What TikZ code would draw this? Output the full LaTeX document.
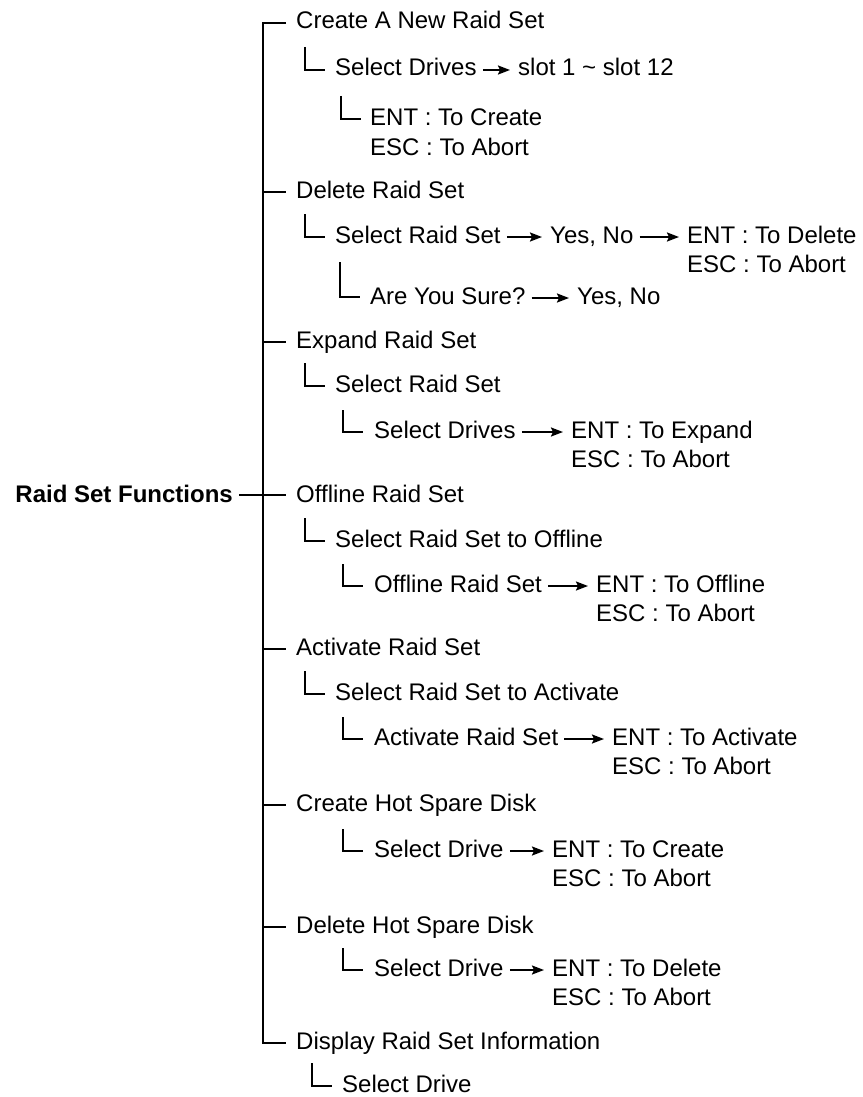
\documentclass[tikz,border=0pt]{standalone}
\usepackage{fontspec}
\setmainfont{Liberation Sans}
\usetikzlibrary{arrows.meta}
\begin{document}
\begin{tikzpicture}[x=1pt,y=-1pt,
  txt/.style={anchor=base west,inner sep=0pt,font=\fontsize{24}{28}\selectfont},
  roottxt/.style={anchor=base east,inner sep=0pt,font=\bfseries\fontsize{24}{28}\selectfont},
  tree/.style={line width=1.9pt},
  arr/.style={line width=1.9pt,-{Stealth[length=12pt,width=9pt,inset=2pt]},shorten <=6pt,shorten >=8pt}]
\useasboundingbox (0,0) rectangle (862,1097);

% root
\node[roottxt] (root) at (233,502) {Raid Set Functions};

% main level
\node[txt] (c1) at (296,29) {Create A New Raid Set};
\node[txt] (d1) at (296,198) {Delete Raid Set};
\node[txt] (e1) at (296,348) {Expand Raid Set};
\node[txt] (o1) at (296,502) {Offline Raid Set};
\node[txt] (a1) at (296,655) {Activate Raid Set};
\node[txt] (h1) at (296,811) {Create Hot Spare Disk};
\node[txt] (h2) at (296,933) {Delete Hot Spare Disk};
\node[txt] (s1) at (296,1049) {Display Raid Set Information};

% level 2
\node[txt] (c2) at (335,76) {Select Drives};
\node[txt] (d2) at (335,243) {Select Raid Set};
\node[txt] (e2) at (335,392) {Select Raid Set};
\node[txt] (o2) at (335,547) {Select Raid Set to Offline};
\node[txt] (a2) at (335,700) {Select Raid Set to Activate};
\node[txt] (h1s) at (374,857) {Select Drive};
\node[txt] (h2s) at (374,976) {Select Drive};
\node[txt] (s2) at (342,1092) {Select Drive};

% level 3
\node[txt] (c3) at (370,126) {ENT : To Create};
\node[txt] (c3b) at ([yshift=-29pt]c3.base west) {ESC : To Abort};
\node[txt] (d3) at (370,304) {Are You Sure?};
\node[txt] (e3) at (374,438) {Select Drives};
\node[txt] (o3) at (374,592) {Offline Raid Set};
\node[txt] (a3) at (374,745) {Activate Raid Set};

% right-hand results
\node[txt] (c2r) at (518,76) {slot 1 \char`~\ slot 12};
\node[txt] (d2r) at (550,243) {Yes, No};
\node[txt] (d2e) at (687,243) {ENT : To Delete};
\node[txt] (d2a) at ([yshift=-29pt]d2e.base west) {ESC : To Abort};
\node[txt] (d3r) at (577,304) {Yes, No};
\node[txt] (e3e) at (571,438) {ENT : To Expand};
\node[txt] (e3a) at ([yshift=-29pt]e3e.base west) {ESC : To Abort};
\node[txt] (o3e) at (596,592) {ENT : To Offline};
\node[txt] (o3a) at ([yshift=-29pt]o3e.base west) {ESC : To Abort};
\node[txt] (a3e) at (612,745) {ENT : To Activate};
\node[txt] (a3a) at ([yshift=-29pt]a3e.base west) {ESC : To Abort};
\node[txt] (h1e) at (552,857) {ENT : To Create};
\node[txt] (h1a) at ([yshift=-29pt]h1e.base west) {ESC : To Abort};
\node[txt] (h2e) at (552,976) {ENT : To Delete};
\node[txt] (h2a) at ([yshift=-29pt]h2e.base west) {ESC : To Abort};

% trunk
\draw[tree] ([xshift=-10pt,yshift=6pt]c1.base west) -- ([xshift=-33pt,yshift=6pt]c1.base west)
  -- ([xshift=-33pt,yshift=6pt]s1.base west) -- ([xshift=-10pt,yshift=6pt]s1.base west);
\foreach \n in {d1,e1,a1,h1,h2}
  \draw[tree] ([xshift=-33pt,yshift=6pt]\n.base west) -- ([xshift=-10pt,yshift=6pt]\n.base west);
\draw[tree] ([xshift=6pt,yshift=7pt]root.base east) -- ([xshift=-10pt,yshift=7pt]o1.base west);

% level-2 elbows
\foreach \n in {c2,d2,e2,o2,a2,s2}
  \draw[tree] ([xshift=-30pt,yshift=29pt]\n.base west) |- ([xshift=-10pt,yshift=6pt]\n.base west);

% level-3 elbows
\draw[tree] ([xshift=-29pt,yshift=30pt]c3.base west) |- ([xshift=-9pt,yshift=7pt]c3.base west);
\draw[tree] ([xshift=-30pt,yshift=42pt]d3.base west) |- ([xshift=-10pt,yshift=7pt]d3.base west);
\foreach \n in {e3,o3,a3,h1s,h2s}
  \draw[tree] ([xshift=-31pt,yshift=28pt]\n.base west) |- ([xshift=-11pt,yshift=6pt]\n.base west);

% arrows
\draw[arr] ([yshift=6pt]c2.base east) -- ([yshift=6pt]c2r.base west);
\draw[arr] ([yshift=6pt]d2.base east) -- ([yshift=6pt]d2r.base west);
\draw[arr] ([yshift=6pt]d2r.base east) -- ([yshift=6pt]d2e.base west);
\draw[arr] ([yshift=6pt]d3.base east) -- ([yshift=6pt]d3r.base west);
\draw[arr] ([yshift=6pt]e3.base east) -- ([yshift=6pt]e3e.base west);
\draw[arr] ([yshift=6pt]o3.base east) -- ([yshift=6pt]o3e.base west);
\draw[arr] ([yshift=6pt]a3.base east) -- ([yshift=6pt]a3e.base west);
\draw[arr] ([yshift=6pt]h1s.base east) -- ([yshift=6pt]h1e.base west);
\draw[arr] ([yshift=6pt]h2s.base east) -- ([yshift=6pt]h2e.base west);
\end{tikzpicture}
\end{document}
